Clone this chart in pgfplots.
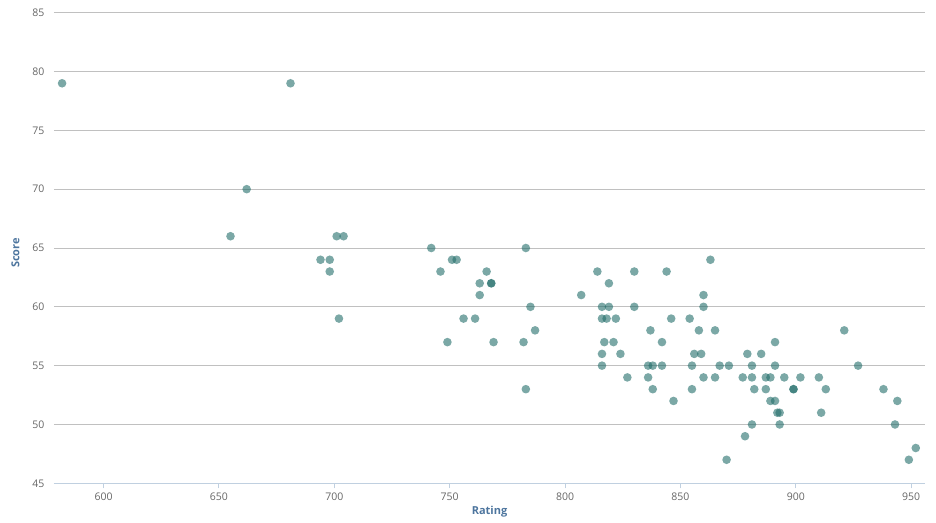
\documentclass[border=0pt]{standalone}
\usepackage{pgfplots}
\pgfplotsset{compat=1.18}
\usepackage{fontspec}
\setmainfont{Open Sans}
\definecolor{ptcol}{RGB}{35,110,106}
\definecolor{gridc}{RGB}{192,192,192}
\definecolor{axc}{RGB}{192,208,224}
\definecolor{tickc}{RGB}{102,102,102}
\definecolor{titc}{RGB}{77,117,158}
\begin{document}
\begin{tikzpicture}
\path[use as bounding box] (-54bp,-39.7bp) rectangle (882bp,470.6bp+12.7bp);
\begin{axis}[
  at={(0,0)}, anchor=south west,
  scale only axis, width=871bp, height=470.6bp,
  xmin=578.5, xmax=956, ymin=45, ymax=85,
  xtick={600,650,...,950}, ytick={45,50,...,85},
  axis x line*=bottom, axis y line*=left,
  x axis line style={draw=axc, line width=1bp, -},
  y axis line style={draw=none},
  xtick style={draw=axc, line width=1bp},
  ytick style={draw=none},
  major tick length=5bp,
  tick align=outside,
  ymajorgrids, major grid style={draw=gridc, line width=0.8bp},
  /pgf/number format/assume math mode=true,
  /pgf/number format/set thousands separator={},
  ticklabel style={font=\fontsize{10.5bp}{12bp}\selectfont, text=tickc},
  xticklabel style={yshift=-1bp},
  yticklabel style={xshift=-1bp},
  xlabel={\textbf{Rating}}, ylabel={\textbf{Score}},
  label style={font=\fontsize{11bp}{13bp}\selectfont, text=titc},
  xlabel style={at={(axis description cs:0.5,0)}, anchor=north, yshift=-19bp},
  ylabel style={at={(axis description cs:0,0.5)}, anchor=south, yshift=31bp, xshift=-5bp},
  clip=false,
]
\addplot[only marks, mark=*, color=ptcol, mark size=4.3bp, mark options={draw opacity=0, fill opacity=0.6}] table {
x y
582 79
681 79
662 70
655 66
701 66
704 66
694 64
698 64
698 63
702 59
742 65
751 64
753 64
746 63
766 63
763 62
768 62
768 62
763 61
756 59
761 59
749 57
769 57
783 65
785 60
787 58
782 57
783 53
807 61
814 63
819 62
816 60
819 60
816 59
818 59
822 59
817 57
821 57
816 56
816 55
830 63
844 63
863 64
860 61
830 60
860 60
846 59
854 59
837 58
858 58
865 58
921 58
842 57
891 57
824 56
856 56
859 56
879 56
885 56
836 55
838 55
842 55
855 55
867 55
871 55
881 55
891 55
927 55
827 54
836 54
860 54
865 54
877 54
881 54
887 54
889 54
895 54
902 54
910 54
838 53
855 53
882 53
887 53
899 53
899 53
913 53
938 53
847 52
889 52
891 52
944 52
892 51
893 51
911 51
881 50
893 50
943 50
878 49
870 47
949 47
952 48
};
\end{axis}
\end{tikzpicture}
\end{document}
